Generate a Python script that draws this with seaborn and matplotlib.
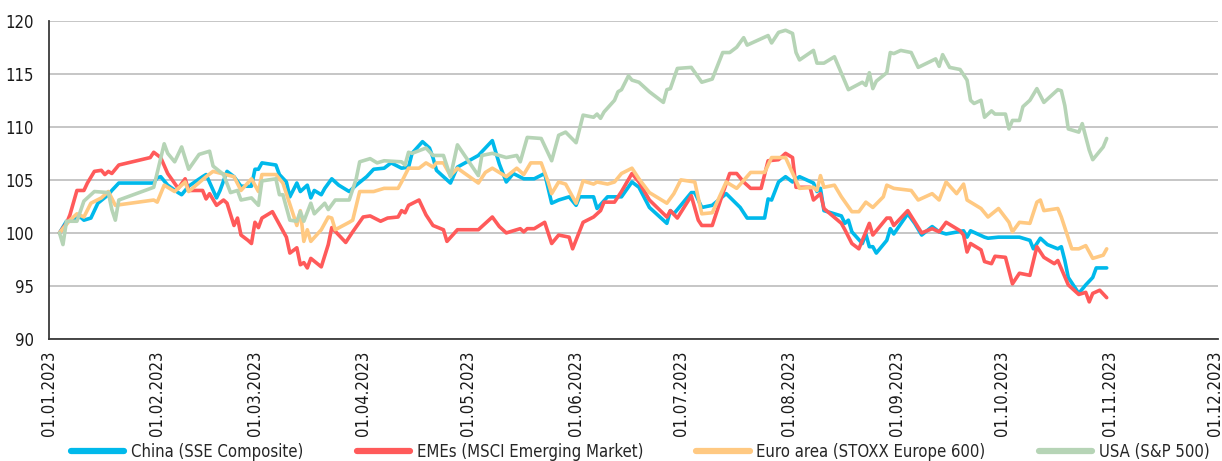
import numpy as np
import pandas as pd
import matplotlib.pyplot as plt
import matplotlib.dates as mdates
from matplotlib.lines import Line2D
from matplotlib import font_manager
import seaborn as sns

# index levels, x = days after 01.01.2023
china_days = [3, 5, 9, 10, 12, 14, 17, 18, 20, 30,
              31, 32, 34, 37, 38, 40, 44, 45, 48, 49,
              51, 53, 55, 58, 59, 60, 61, 65, 66, 68,
              69, 71, 72, 74, 75, 76, 78, 79, 81, 83,
              86, 88, 91, 93, 96, 98, 101, 103, 104, 107,
              109, 110, 111, 115, 117, 123, 127, 129, 131, 133,
              136, 139, 142, 144, 146, 149, 151, 152, 156, 157,
              160, 162, 164, 167, 169, 172, 177, 178, 179, 184,
              185, 187, 190, 194, 198, 200, 205, 206, 207, 209,
              211, 213, 215, 219, 220, 221, 222, 227, 228, 229,
              230, 233, 234, 235, 236, 237, 240, 241, 242, 246,
              248, 250, 253, 255, 257, 262, 263, 264, 268, 269,
              272, 278, 281, 282, 284, 286, 289, 290, 291, 292,
              295, 297, 299, 300, 303]
china_vals = [100, 101.1, 101.5, 101.2, 101.4, 102.8, 103.6, 104, 104.7, 104.7,
              105.2, 105.3, 104.5, 103.8, 103.6, 104.4, 105.3, 105.5, 103.3, 104,
              105.8, 105.3, 104.4, 104.4, 106, 106, 106.6, 106.4, 105.5, 104.8,
              103.4, 104.7, 103.9, 104.5, 103.3, 104, 103.6, 104.2, 105.1, 104.5,
              103.9, 104.5, 105.3, 106, 106.1, 106.6, 106.1, 106.2, 107.5, 108.6,
              108, 107.1, 105.9, 104.7, 106.2, 107.3, 108.7, 106.5, 104.8, 105.6,
              105.1, 105.1, 105.6, 102.8, 103.1, 103.4, 102.6, 103.4, 103.4, 102.3,
              103.4, 103.4, 103.4, 104.8, 104.3, 102.4, 100.9, 102.1, 101.8, 103.8,
              103.8, 102.4, 102.6, 103.7, 102.4, 101.4, 101.4, 103.2, 103.1, 104.8,
              105.3, 104.8, 105.3, 104.7, 103.9, 104.2, 102.1, 101.6, 100.9, 101.2,
              100.1, 99, 99.9, 98.7, 98.7, 98.1, 99.3, 100.4, 99.9, 101.8,
              100.9, 99.8, 100.6, 100.1, 99.9, 100.2, 99.6, 100.2, 99.6, 99.5,
              99.6, 99.6, 99.3, 98.5, 99.5, 98.9, 98.5, 98.7, 97.4, 95.8,
              94.3, 95.1, 95.8, 96.7, 96.7]

eme_days = [3, 5, 6, 8, 10, 11, 13, 15, 16, 17,
            18, 20, 29, 30, 32, 34, 37, 39, 40, 44,
            45, 46, 48, 50, 51, 53, 54, 55, 57, 58,
            59, 60, 61, 64, 68, 69, 71, 72, 73, 74,
            75, 78, 80, 81, 85, 87, 90, 92, 95, 97,
            100, 101, 102, 103, 106, 108, 110, 113, 114, 117,
            123, 127, 129, 131, 135, 136, 137, 139, 142, 144,
            146, 149, 150, 153, 156, 158, 159, 162, 164, 167,
            169, 172, 177, 178, 180, 184, 186, 187, 190, 193,
            195, 197, 199, 201, 204, 206, 209, 211, 213, 214,
            218, 219, 221, 222, 227, 228, 230, 232, 235, 236,
            240, 241, 242, 246, 250, 253, 255, 257, 261, 262,
            263, 264, 267, 268, 270, 271, 274, 276, 278, 281,
            283, 285, 288, 289, 292, 295, 297, 298, 299, 301,
            303]
eme_vals = [100, 100.9, 101.7, 104, 104, 104.7, 105.8, 105.9, 105.5, 105.8,
            105.6, 106.4, 107.1, 107.6, 107.1, 105.6, 104.2, 105.1, 104, 104,
            103.2, 103.7, 102.6, 103.1, 102.8, 100.7, 101.4, 99.8, 99.3, 99,
            101, 100.5, 101.4, 102, 99.6, 98.1, 98.6, 97, 97.2, 96.7,
            97.6, 96.8, 98.9, 100.5, 99.1, 100.1, 101.5, 101.6, 101.1, 101.4,
            101.5, 102.1, 101.9, 102.6, 103.1, 101.7, 100.7, 100.3, 99.2, 100.3,
            100.3, 101.5, 100.6, 100, 100.4, 100.1, 100.4, 100.4, 101, 99,
            99.8, 99.6, 98.5, 101, 101.5, 102.1, 102.9, 102.9, 103.9, 105.6,
            104.8, 103.1, 101.5, 102.1, 101.4, 103.5, 101.2, 100.7, 100.7, 103.7,
            105.6, 105.6, 104.8, 104.2, 104.2, 106.8, 106.9, 107.5, 107.1, 104.3,
            104.3, 103.1, 103.7, 102.3, 100.9, 100.3, 99, 98.5, 100.9, 99.8,
            101.4, 101.4, 100.7, 102.1, 100, 100.4, 100.1, 101, 100.2, 99.8,
            98.2, 99, 98.4, 97.3, 97.1, 97.8, 97.7, 95.2, 96.2, 96,
            98.7, 97.7, 97.1, 97.4, 95.1, 94.2, 94.4, 93.5, 94.3, 94.6,
            93.9]

euro_days = [3, 6, 8, 10, 12, 15, 17, 19, 30, 31,
             33, 36, 39, 40, 45, 47, 53, 55, 58, 60,
             61, 65, 67, 71, 72, 73, 74, 75, 78, 80,
             81, 82, 86, 87, 89, 93, 96, 100, 101, 103,
             106, 108, 110, 111, 113, 115, 117, 123, 125, 127,
             131, 134, 136, 138, 141, 143, 144, 146, 148, 151,
             153, 156, 157, 160, 162, 164, 167, 169, 172, 177,
             179, 181, 185, 187, 190, 194, 197, 201, 205, 206,
             207, 211, 215, 219, 220, 221, 222, 225, 227, 230,
             232, 234, 236, 239, 240, 242, 247, 249, 253, 255,
             257, 260, 262, 263, 267, 269, 272, 275, 276, 278,
             281, 283, 284, 285, 289, 290, 293, 295, 297, 298,
             299, 302, 303]
euro_vals = [100, 101.2, 101.8, 101.5, 102.8, 103.3, 103.9, 102.6, 103.1, 102.9,
             104.5, 103.9, 104.8, 103.9, 105.3, 105.8, 105.3, 104, 105.1, 103.9,
             105.5, 105.5, 104.7, 100.7, 102.1, 99.2, 100.3, 99.2, 100.3, 101.5,
             101.4, 100.3, 101, 101.2, 103.9, 103.9, 104.2, 104.2, 104.8, 106.1,
             106.1, 106.6, 106.2, 106.6, 106.6, 105.4, 106.1, 104.7, 105.7, 106.1,
             105.3, 106.1, 105.5, 106.6, 106.6, 104.8, 103.7, 104.8, 104.6, 102.8,
             104.9, 104.6, 104.8, 104.6, 104.8, 105.6, 106.1, 105.1, 103.8, 102.8,
             103.7, 105, 104.8, 101.8, 101.9, 104.8, 104.2, 105.7, 105.7, 106.4,
             107.1, 107.1, 104.2, 104.3, 104, 105.4, 104.3, 104.5, 103.4, 102,
             102, 102.9, 102.4, 103.4, 104.5, 104.2, 104, 103.1, 103.7, 103.1,
             104.8, 103.7, 104.6, 103.1, 102.3, 101.5, 102.3, 101, 100.1, 101,
             100.9, 102.9, 103.1, 102.1, 102.3, 101.5, 98.5, 98.5, 98.8, 98.2,
             97.6, 97.9, 98.5]

usa_days = [3, 4, 5, 8, 10, 13, 17, 18, 19, 20,
            30, 33, 34, 36, 38, 40, 43, 46, 47, 50,
            52, 54, 55, 58, 60, 61, 65, 66, 67, 69,
            71, 72, 73, 75, 76, 79, 80, 82, 86, 88,
            89, 92, 94, 96, 101, 102, 103, 104, 108, 110,
            113, 115, 117, 123, 124, 127, 129, 131, 134, 135,
            137, 141, 144, 146, 148, 151, 153, 156, 157, 158,
            159, 162, 163, 164, 166, 167, 169, 172, 176, 177,
            178, 180, 184, 187, 190, 193, 195, 197, 199, 200,
            204, 206, 207, 209, 211, 213, 214, 215, 219, 220,
            222, 225, 229, 233, 234, 235, 236, 237, 240, 241,
            242, 244, 247, 249, 254, 255, 256, 258, 261, 263,
            264, 265, 267, 268, 270, 271, 274, 275, 276, 278,
            279, 281, 283, 285, 289, 290, 291, 292, 295, 296,
            298, 299, 302, 303]
usa_vals = [100, 98.9, 101.1, 101.1, 103, 103.9, 103.8, 102.2, 101.2, 103.1,
            104.3, 108.4, 107.5, 106.7, 108.1, 106, 107.4, 107.7, 106.3, 105.5,
            103.8, 104, 103.1, 103.3, 102.6, 104.9, 105.1, 103.6, 103.6, 101.2,
            101.1, 102, 101.1, 102.8, 101.8, 102.8, 102.2, 103.1, 103.1, 105.1,
            106.7, 107, 106.6, 106.8, 106.7, 106.4, 107.6, 107.5, 108, 107.3,
            107.3, 105.3, 108.3, 105.4, 107.3, 107.5, 107.3, 107.1, 107.3, 106.7,
            109, 108.9, 106.8, 109.2, 109.5, 108.5, 111.1, 110.9, 111.2, 110.8,
            111.4, 112.5, 113.3, 113.5, 114.8, 114.4, 114.2, 113.3, 112.3, 113.5,
            113.6, 115.5, 115.6, 114.2, 114.5, 117, 117, 117.5, 118.4, 117.7,
            118.3, 118.6, 117.9, 118.9, 119.1, 118.8, 117, 116.3, 117.2, 116,
            116, 116.6, 113.5, 114.2, 113.9, 115.1, 113.6, 114.3, 115.1, 117,
            116.9, 117.2, 117, 115.6, 116.4, 115.7, 116.8, 115.6, 115.4, 114.4,
            112.5, 112.2, 112.5, 110.9, 111.5, 111.2, 111.2, 109.8, 110.6, 110.6,
            111.9, 112.5, 113.6, 112.3, 113.5, 113.4, 112, 109.8, 109.5, 110.3,
            107.8, 106.9, 108.1, 108.9]

series_names = ['China (SSE Composite)', 'EMEs (MSCI Emerging Market)',
                'Euro area (STOXX Europe 600)', 'USA (S&P 500)']
colors = ['#00B9EB', '#FF5A5A', '#FFC982', '#B6D4B6']

start = pd.Timestamp('2023-01-01')
frames = []
for name, days, vals in zip(series_names,
                            [china_days, eme_days, euro_days, usa_days],
                            [china_vals, eme_vals, euro_vals, usa_vals]):
    frames.append(pd.DataFrame({'date': start + pd.to_timedelta(days, unit='D'),
                                'value': vals, 'series': name}))
df = pd.concat(frames, ignore_index=True)

sns.set_style('white')

# the original uses a narrow face; take a condensed one if there is any
condensed = [f for f in font_manager.fontManager.ttflist
             if f.name == 'DejaVu Sans' and f.stretch == 'condensed' and f.style == 'normal']
if condensed:
    plt.rcParams['font.family'] = ['DejaVu Sans']
    plt.rcParams['font.stretch'] = 'condensed'
    fs = 12
else:
    plt.rcParams['font.family'] = ['Roboto', 'DejaVu Sans']
    fs = 12

fig = plt.figure(figsize=(12.22, 4.61), dpi=100)
ax = fig.add_axes([0.0401, 0.2646, 0.9566, 0.6905])

sns.lineplot(data=df, x='date', y='value', hue='series', hue_order=series_names,
             palette=dict(zip(series_names, colors)), estimator=None,
             linewidth=2.6, ax=ax, legend=False)

ax.set_ylim(90, 120)
ax.set_yticks(np.arange(90, 121, 5))
ax.set_xlim(start, pd.Timestamp('2023-12-01 21:00'))
ax.set_xticks(pd.date_range('2023-01-01', '2023-12-01', freq='MS'))
ax.xaxis.set_major_formatter(mdates.DateFormatter('%d.%m.%Y'))
plt.setp(ax.get_xticklabels(), rotation=90)
ax.set_xlabel('')
ax.set_ylabel('')

ax.yaxis.grid(True, color='#c6c6c6', lw=1.4)
ax.xaxis.grid(False)
ax.set_axisbelow(True)
for s in ['top', 'right']:
    ax.spines[s].set_visible(False)
for s in ['left', 'bottom']:
    ax.spines[s].set_color('#3a3a3a')
    ax.spines[s].set_linewidth(1.3)
ax.tick_params(axis='both', direction='out', length=5, width=1.2, color='#3a3a3a',
               labelsize=fs, labelcolor='#1a1a1a')
ax.tick_params(axis='x', pad=3)
ax.tick_params(axis='y', pad=6)

handles = [Line2D([0], [0], color=c, lw=4.5) for c in colors]
fig.legend(handles, series_names, loc='center', bbox_to_anchor=(0.524, 0.02), ncol=4,
           frameon=False, fontsize=fs, handlelength=3.2, handletextpad=0.4,
           columnspacing=3.2)

fig.savefig('out.png', dpi=100)
